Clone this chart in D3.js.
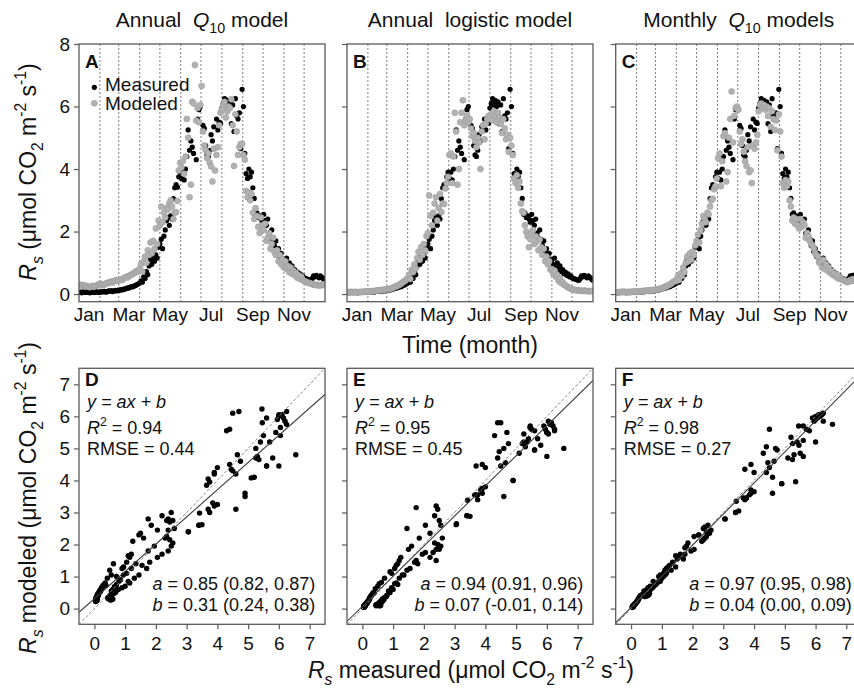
<!DOCTYPE html>
<html><head><meta charset="utf-8">
<script src="https://cdn.jsdelivr.net/npm/d3@7"></script>
<style>
body{margin:0;background:#fff}
svg{display:block}
text{font-family:"Liberation Sans",Arial,Helvetica,sans-serif;fill:#111}
</style>
</head><body><svg id="c" width="854" height="693"></svg>
<script>
// ---------------- DATA ----------------
const days = [0,2,4,6,8,10,12,14,16,18,20,22,24,26,28,30,
32,34,36,38,40,42,44,46,48,50,52,54,56,58,
60,62,64,66,68,70,72,74,76,78,80,82,84,86,88,
90,92,94,96,98,100,102,104,106,108,110,112,114,116,118,
120,122,124,126,128,130,132,134,136,138,140,142,144,146,148,150,
152,154,156,158,160,162,164,166,168,170,172,174,176,178,180,
182,184,186,188,190,192,194,196,198,200,202,204,206,208,210,
212,214,216,218,220,222,224,226,228,230,232,234,236,238,240,242,
244,246,248,250,252,254,256,258,260,262,264,266,268,270,272,
274,276,278,280,282,284,286,288,290,292,294,296,298,300,302,
304,306,308,310,312,314,316,318,320,322,324,326,328,330,332,
334,336,338,340,342,344,346,348,350,352,354,356,358,360,362,364];

const measured = [0.05,0.06,0.04,0.07,0.05,0.06,0.08,0.05,0.04,0.06,0.07,0.05,0.08,0.06,0.07,0.05,
0.06,0.08,0.07,0.09,0.06,0.08,0.10,0.09,0.11,0.08,0.10,0.12,0.10,0.13,
0.12,0.14,0.13,0.16,0.15,0.18,0.20,0.19,0.22,0.24,0.23,0.26,0.28,0.30,0.33,
0.35,0.42,0.38,0.55,0.50,0.72,0.62,0.90,1.10,0.95,1.20,1.05,1.25,1.15,1.50,
1.60,1.75,1.45,1.85,2.05,2.35,2.45,2.20,2.50,2.40,3.05,3.40,3.50,3.42,3.75,3.90,
3.70,3.90,3.65,4.00,4.40,5.25,4.60,4.90,4.70,4.50,null,4.30,5.60,5.90,6.00,
null,5.40,5.30,4.75,4.45,4.40,4.60,5.10,4.90,5.35,null,5.60,5.25,5.50,5.46,
5.95,6.10,6.25,6.05,6.20,6.00,6.15,5.45,6.05,5.20,6.25,5.70,5.60,5.80,4.65,6.55,
6.00,4.50,3.85,3.70,4.00,3.75,3.90,3.40,3.06,2.55,2.60,2.45,2.50,2.40,2.30,
2.55,2.35,2.20,2.40,1.95,1.80,2.05,1.75,1.55,1.70,1.35,1.45,1.20,1.30,1.05,
1.10,0.95,1.15,0.85,1.00,0.80,0.90,0.72,0.78,0.65,0.70,0.60,0.65,0.55,0.58,
0.52,0.50,0.48,0.47,0.45,0.44,0.50,0.58,0.55,0.60,0.56,0.52,0.58,0.54,0.50,0.45];

// Annual Q10 model
const modelQ10 = [0.28,0.30,0.26,0.29,0.27,0.24,0.25,0.23,0.22,0.24,0.26,0.23,0.25,0.27,0.30,0.32,
0.33,0.30,0.28,0.31,0.34,0.36,0.35,0.38,0.40,0.37,0.41,0.43,0.45,0.42,
0.44,0.47,0.45,0.50,0.52,0.55,0.53,0.58,0.60,0.62,0.65,0.68,0.72,0.70,0.76,
0.80,0.95,0.72,1.05,1.20,1.00,1.40,1.25,1.65,1.30,1.70,1.45,2.10,1.60,2.35,
2.20,2.80,2.30,2.60,2.45,2.75,2.70,2.90,3.00,2.80,2.40,2.60,2.62,2.98,3.95,4.20,
4.05,4.25,3.85,4.40,5.60,5.00,3.10,3.50,6.15,6.10,7.33,5.55,5.95,5.50,6.05,
6.66,5.20,4.75,4.60,4.35,4.50,4.20,4.08,3.60,4.65,3.95,4.45,4.70,5.40,5.80,
5.90,6.05,6.15,5.65,5.85,6.00,5.95,6.23,5.40,4.10,5.75,5.20,4.45,4.70,4.80,4.80,
4.45,4.30,3.30,3.10,3.25,3.00,3.20,2.60,2.40,2.75,2.50,2.15,1.95,2.45,2.20,
2.05,2.25,1.70,1.80,1.95,1.45,1.60,1.80,1.35,1.25,1.40,1.05,1.25,0.95,1.10,
0.85,1.05,0.80,0.90,0.70,0.85,0.65,0.75,0.60,0.68,0.52,0.60,0.48,0.55,0.45,
0.42,0.40,0.38,0.36,0.35,0.34,0.32,0.30,0.29,0.30,0.28,0.27,0.29,0.28,0.30,0.31];

// Annual logistic model
const modelLogistic = [0.06,0.05,0.06,0.07,0.06,0.05,0.07,0.06,0.05,0.06,0.07,0.06,0.07,0.08,0.08,0.07,
0.08,0.09,0.08,0.10,0.09,0.10,0.11,0.12,0.12,0.11,0.13,0.14,0.13,0.15,
0.15,0.16,0.17,0.18,0.20,0.22,0.24,0.25,0.28,0.30,0.33,0.36,0.40,0.42,0.46,
0.50,0.62,0.48,0.78,0.70,0.95,0.82,1.15,1.35,1.10,1.50,1.25,1.60,1.40,1.85,
1.95,3.15,2.50,2.20,2.60,2.90,3.10,2.35,2.75,3.20,2.62,2.90,2.88,3.38,3.55,3.75,
4.45,4.50,3.55,4.40,5.80,5.20,3.50,4.00,5.50,5.80,6.20,5.40,5.55,5.70,5.50,
5.60,5.30,5.05,5.15,4.90,4.70,5.00,4.85,4.00,5.20,5.40,4.95,5.45,5.60,5.70,
5.60,5.75,5.55,5.85,5.70,5.50,5.80,5.65,5.45,5.15,5.60,5.30,4.95,5.10,4.55,5.00,
4.75,4.45,3.70,3.55,3.80,3.40,3.60,2.90,2.65,2.60,2.20,2.00,1.85,1.50,1.75,
1.95,2.05,1.60,1.85,1.70,1.40,1.75,1.50,1.25,1.45,1.05,1.20,0.95,1.05,0.78,
0.80,0.65,0.75,0.55,0.60,0.42,0.50,0.35,0.38,0.30,0.28,0.24,0.22,0.19,0.17,
0.15,0.14,0.13,0.12,0.12,0.11,0.11,0.10,0.10,0.11,0.10,0.10,0.09,0.09,0.10,0.09];

// Monthly Q10 models
const modelMonthly = [0.05,0.06,0.05,0.06,0.07,0.06,0.08,0.06,0.05,0.07,0.06,0.06,0.08,0.07,0.08,0.07,
0.07,0.09,0.08,0.10,0.08,0.09,0.11,0.10,0.12,0.10,0.12,0.13,0.12,0.14,
0.14,0.15,0.16,0.17,0.18,0.20,0.22,0.23,0.26,0.28,0.30,0.33,0.36,0.40,0.42,
0.42,0.55,0.45,0.65,0.58,0.85,0.70,1.00,1.20,1.05,1.30,1.10,1.35,1.25,1.55,
1.70,1.90,1.65,2.05,2.25,2.50,2.40,2.30,2.60,2.55,2.80,3.00,3.05,3.35,3.45,3.70,
4.35,4.50,3.45,4.25,5.05,5.15,3.60,3.90,5.00,5.60,6.48,4.85,5.70,5.95,6.00,
5.90,5.20,4.80,4.95,4.55,4.25,4.10,4.70,3.90,3.96,3.55,4.75,4.65,4.85,5.10,
5.85,6.05,6.10,5.95,6.05,5.90,6.00,5.70,5.95,5.35,5.85,5.60,5.25,5.55,4.60,5.75,
5.20,4.40,3.55,3.40,3.65,3.45,3.60,3.00,2.80,2.35,2.45,2.25,2.40,2.20,2.10,
2.40,2.15,2.30,2.20,1.80,1.95,1.85,1.70,1.60,1.55,1.45,1.30,1.25,1.20,1.00,
1.05,0.85,1.10,0.80,0.95,0.75,0.85,0.68,0.74,0.62,0.66,0.56,0.62,0.50,0.55,
0.48,0.46,0.45,0.42,0.40,0.38,0.40,0.45,0.42,0.48,0.45,0.40,0.46,0.42,0.40,0.38];

const monthStarts = [31,59,90,120,151,181,212,243,273,304,334];
const monthLabels = ["Jan","Mar","May","Jul","Sep","Nov"];
const monthLabelDays = [15,74,135,196,258,319];
const topYTicks = [0,2,4,6,8];
const scatterTicks = [0,1,2,3,4,5,6,7];
const topLetters = ["A","B","C"];
const botLetters = ["D","E","F"];
const fitSlope = [0.85,0.94,0.97];
const fitIntercept = [0.31,0.07,0.04];
const r2Text = ["0.94","0.95","0.98"];
const rmseText = ["0.44","0.45","0.27"];
const aText = ["0.85 (0.82, 0.87)","0.94 (0.91, 0.96)","0.97 (0.95, 0.98)"];
const bText = ["0.31 (0.24, 0.38)","0.07 (-0.01, 0.14)","0.04 (0.00, 0.09)"];
const legendLabels = ["Measured","Modeled"];

// ---------------- CHECK ----------------
[measured, modelQ10, modelLogistic, modelMonthly].forEach((a,i)=>{
  if (a.length !== days.length) throw new Error("length mismatch series "+i+": "+a.length+" vs "+days.length);
});

// ---------------- DRAW ----------------
const svg = d3.select("#c");
const models = [modelQ10, modelLogistic, modelMonthly];
const PX = [79, 347, 615.7], PW = 246;
const FRAME = "#5a5a5a";
const GREY_FILL = "#b2b2b2", GREY_STROKE = "#9c9c9c";

function rich(g, parts, size, attrs) {
  const t = g.append("text").attr("font-size", size).style("white-space", "pre");
  Object.entries(attrs || {}).forEach(([k, v]) => t.attr(k, v));
  let shift = 0;
  parts.forEach(p => {
    const txt = p[0], st = p[1] || "";
    const sub = st.includes("b"), sup = st.includes("p");
    const target = sub ? 0.3 * size : sup ? -0.42 * size : 0;
    const ts = t.append("tspan").text(txt).attr("dy", target - shift);
    shift = target;
    if (sub || sup) ts.attr("font-size", size * 0.68);
    if (st.includes("i")) ts.attr("font-style", "italic");
    if (st.includes("w")) ts.attr("font-weight", "bold");
  });
  return t;
}

const titleParts = [
  [["Annual  "], ["Q", "i"], ["10", "b"], [" model"]],
  [["Annual  logistic model"]],
  [["Monthly  "], ["Q", "i"], ["10", "b"], [" models"]]
];

const defs = svg.append("defs");

// ---- top row: time series ----
PX.forEach((x0, i) => {
  const x = d3.scaleLinear([0, 365], [x0, x0 + PW]);
  const y = d3.scaleLinear([-0.245, 8], [301.7, 44]);
  const g = svg.append("g");
  const cid = "ct" + i;
  defs.append("clipPath").attr("id", cid).append("rect")
    .attr("x", x0).attr("y", 44).attr("width", PW).attr("height", 301.7 - 44);
  const pg = g.append("g").attr("clip-path", `url(#${cid})`);

  pg.selectAll("line.m").data(monthStarts).join("line")
    .attr("x1", d => x(d)).attr("x2", d => x(d))
    .attr("y1", 44).attr("y2", 301.7)
    .attr("stroke", "#6e6e6e").attr("stroke-width", 0.9).attr("stroke-dasharray", "2,2");

  const idx = d3.range(days.length);
  pg.selectAll("circle.meas").data(idx.filter(j => measured[j] != null)).join("circle")
    .attr("cx", j => x(days[j])).attr("cy", j => y(measured[j])).attr("r", 2.6)
    .attr("fill", "#000");
  pg.selectAll("circle.mod").data(idx).join("circle")
    .attr("cx", j => x(days[j])).attr("cy", j => y(models[i][j])).attr("r", 3.0)
    .attr("fill", GREY_FILL).attr("stroke", GREY_STROKE).attr("stroke-width", 0.6);

  g.append("rect").attr("x", x0).attr("y", 44).attr("width", PW).attr("height", 301.7 - 44)
    .attr("fill", "none").attr("stroke", FRAME).attr("stroke-width", 1.3);

  const ax = d3.axisLeft(y).tickValues(topYTicks).tickSize(5).tickPadding(4)
    .tickFormat(i === 0 ? d3.format("d") : () => "");
  const ag = g.append("g").attr("transform", `translate(${x0},0)`).call(ax);
  ag.select(".domain").remove();
  ag.selectAll("line").attr("stroke", FRAME).attr("stroke-width", 1.2);
  ag.selectAll("text").attr("font-size", 19).attr("fill", "#111")
    .attr("font-family", '"Liberation Sans",Arial,sans-serif');

  g.selectAll("text.mon").data(monthLabels).join("text")
    .attr("x", (d, k) => x(monthLabelDays[k])).attr("y", 321)
    .attr("text-anchor", "middle").attr("font-size", 19).text(d => d);

  g.append("text").attr("x", x0 + 6).attr("y", 68).attr("font-size", 19)
    .attr("font-weight", "bold").text(topLetters[i]);

  rich(g, titleParts[i], 21, { x: x0 + PW / 2, y: 27, "text-anchor": "middle" });
});

// legend in panel A
svg.append("circle").attr("cx", 94.3).attr("cy", 87.3).attr("r", 2.6).attr("fill", "#000");
svg.append("circle").attr("cx", 94.3).attr("cy", 103.3).attr("r", 3.0)
  .attr("fill", GREY_FILL).attr("stroke", GREY_STROKE).attr("stroke-width", 0.6);
svg.append("text").attr("x", 105).attr("y", 90.7).attr("font-size", 19).text(legendLabels[0]);
svg.append("text").attr("x", 105).attr("y", 110).attr("font-size", 19).text(legendLabels[1]);

// ---- bottom row: scatter ----
PX.forEach((x0, i) => {
  const x = d3.scaleLinear([-0.5, 7.5], [x0, x0 + PW]);
  const y = d3.scaleLinear([-0.49, 7.5], [624.3, 368.3]);
  const g = svg.append("g");
  const cid = "cb" + i;
  defs.append("clipPath").attr("id", cid).append("rect")
    .attr("x", x0).attr("y", 368.3).attr("width", PW).attr("height", 624.3 - 368.3);
  const pg = g.append("g").attr("clip-path", `url(#${cid})`);

  const idx = d3.range(days.length).filter(j => measured[j] != null);
  pg.selectAll("circle").data(idx).join("circle")
    .attr("cx", j => x(measured[j])).attr("cy", j => y(models[i][j])).attr("r", 2.7)
    .attr("fill", "#000");

  pg.append("line").attr("x1", x(-0.5)).attr("y1", y(-0.5)).attr("x2", x(7.5)).attr("y2", y(7.5))
    .attr("stroke", "#8a8a8a").attr("stroke-width", 1).attr("stroke-dasharray", "3,2");
  pg.append("line")
    .attr("x1", x(-0.5)).attr("y1", y(fitSlope[i] * -0.5 + fitIntercept[i]))
    .attr("x2", x(7.5)).attr("y2", y(fitSlope[i] * 7.5 + fitIntercept[i]))
    .attr("stroke", "#3c3c3c").attr("stroke-width", 1.1);

  g.append("rect").attr("x", x0).attr("y", 368.3).attr("width", PW).attr("height", 624.3 - 368.3)
    .attr("fill", "none").attr("stroke", FRAME).attr("stroke-width", 1.3);

  const ay = d3.axisLeft(y).tickValues(scatterTicks).tickSize(5).tickPadding(4)
    .tickFormat(i === 0 ? d3.format("d") : () => "");
  const agy = g.append("g").attr("transform", `translate(${x0},0)`).call(ay);
  const axb = d3.axisBottom(x).tickValues(scatterTicks).tickSize(5).tickPadding(7).tickFormat(d3.format("d"));
  const agx = g.append("g").attr("transform", `translate(0,624.3)`).call(axb);
  [agy, agx].forEach(a => {
    a.select(".domain").remove();
    a.selectAll("line").attr("stroke", FRAME).attr("stroke-width", 1.2);
    a.selectAll("text").attr("font-size", 19).attr("fill", "#111")
      .attr("font-family", '"Liberation Sans",Arial,sans-serif');
  });

  g.append("text").attr("x", x0 + 6).attr("y", 386).attr("font-size", 19)
    .attr("font-weight", "bold").text(botLetters[i]);

  rich(g, [["y = ax + b", "i"]], 18, { x: x0 + 8, y: 408 });
  rich(g, [["R", "i"], ["2", "p"], [" = " + r2Text[i]]], 18, { x: x0 + 8, y: 434 });
  rich(g, [["RMSE = " + rmseText[i]]], 18, { x: x0 + 8, y: 455 });
  rich(g, [["a", "i"], [" = " + aText[i]]], 18, { x: x(7.18), y: 590, "text-anchor": "end" });
  rich(g, [["b", "i"], [" = " + bText[i]]], 18, { x: x(7.18), y: 611, "text-anchor": "end" });
});

// ---- axis titles ----
const unitParts = [[" (μmol CO"], ["2", "b"], [" m"], ["-2", "p"], [" s"], ["-1", "p"], [")"]];
rich(svg, [["R", "i"], ["s", "ib"]].concat(unitParts), 23,
  { transform: "translate(36,172) rotate(-90)", "text-anchor": "middle" });
rich(svg, [["R", "i"], ["s", "ib"], [" modeled"]].concat(unitParts), 23,
  { transform: "translate(36,498) rotate(-90)", "text-anchor": "middle" });
rich(svg, [["Time (month)"]], 23, { x: 470, y: 353, "text-anchor": "middle" });
rich(svg, [["R", "i"], ["s", "ib"], [" measured"]].concat(unitParts), 23,
  { x: 471, y: 678, "text-anchor": "middle" });
</script>
</body></html>
